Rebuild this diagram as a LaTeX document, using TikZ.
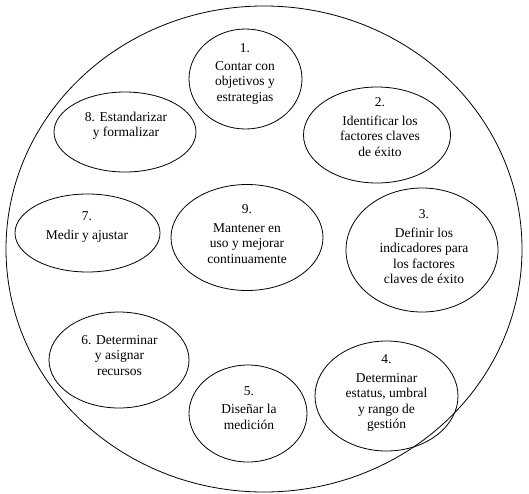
\documentclass[tikz,border=0pt]{standalone}
\usepackage{fontspec}
\setmainfont{Liberation Serif}
\usetikzlibrary{shapes.geometric}
\tikzset{
  oval/.style={draw=black, line width=0.8pt, ellipse, inner sep=0pt},
  lbl/.style={align=center, inner sep=0pt, font=\fontsize{13.5}{15.5}\selectfont}
}
\begin{document}
\begin{tikzpicture}[x=1pt,y=-1pt]
\useasboundingbox (0,0) rectangle (529,493);
\node[oval, minimum width=516pt, minimum height=486pt] (outer) at (264,249) {};
% ellipses
\node[oval, minimum width=113pt, minimum height=100pt] (e1) at (245.5,79) {};
\node[oval, minimum width=147pt, minimum height=96pt] (e2) at (377,135) {};
\node[oval, minimum width=142pt, minimum height=80pt] (e8) at (125,132) {};
\node[oval, minimum width=145pt, minimum height=78pt] (e7) at (87.5,233) {};
\node[oval, minimum width=152pt, minimum height=106pt] (e9) at (247,237.5) {};
\node[oval, minimum width=152pt, minimum height=124pt] (e3) at (422,250) {};
\node[oval, minimum width=140pt, minimum height=96pt] (e6) at (119,360) {};
\node[oval, minimum width=118pt, minimum height=97pt] (e5) at (248,413.5) {};
\node[oval, minimum width=143pt, minimum height=110pt] (e4) at (386.5,396) {};
% texts
\node[lbl] (t1) at (245,74) {1.\\[2pt]Contar con\\objetivos y\\estrategias};
\node[lbl] (t2) at (380,127) {2.\\[3pt]Identificar los\\factores claves\\de éxito};
\node[lbl] (t8) at (126,126) {8. Estandarizar\\y formalizar};
\node[lbl] (t7) at (87,227) {7.\\[3pt]Medir y ajustar};
\node[lbl] (t9) at (247,234) {9.\\[3pt]Mantener en\\uso y mejorar\\continuamente};
\node[lbl] (t3) at (424,247) {3.\\[3pt]Definir los\\indicadores para\\los factores\\claves de éxito};
\node[lbl] (t6) at (119.5,355.5) {6. Determinar\\y asignar\\recursos};
\node[lbl] (t5) at (249,408) {5.\\[3pt]Diseñar la\\medición};
\node[lbl] (t4) at (386.5,393.5) {4.\\[3pt]Determinar\\estatus, umbral\\y rango de\\gestión};
\end{tikzpicture}
\end{document}
